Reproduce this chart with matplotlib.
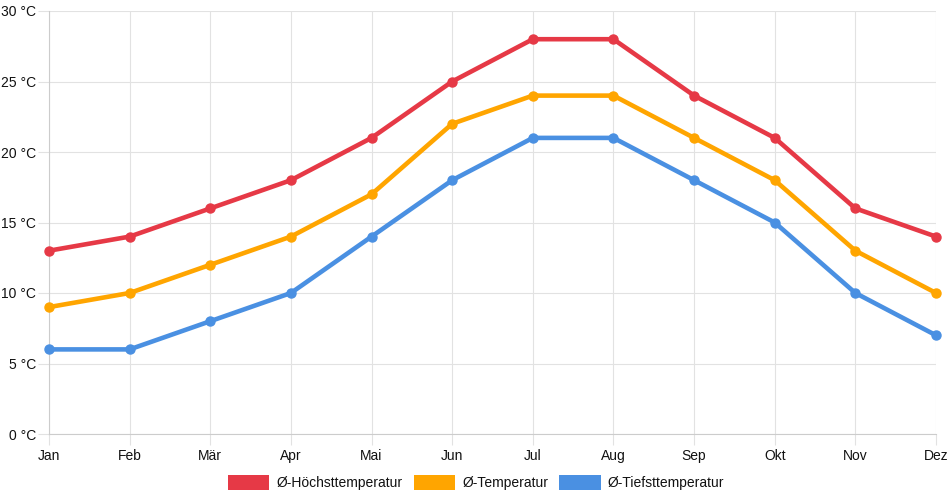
import numpy as np
import matplotlib.pyplot as plt
from matplotlib.patches import Patch

months = ["Jan", "Feb", "Mär", "Apr", "Mai", "Jun", "Jul", "Aug", "Sep", "Okt", "Nov", "Dez"]
t_max = [13, 14, 16, 18, 21, 25, 28, 28, 24, 21, 16, 14]
t_mean = [9, 10, 12, 14, 17, 22, 24, 24, 21, 18, 13, 10]
t_min = [6, 6, 8, 10, 14, 18, 21, 21, 18, 15, 10, 7]
labels = ["Ø-Höchsttemperatur", "Ø-Temperatur", "Ø-Tiefsttemperatur"]
colors = ["#e63946", "#ffa500", "#4a90e2"]

plt.rcParams['font.family'] = ['Liberation Sans', 'DejaVu Sans']

fig = plt.figure(figsize=(9.52, 5.0), dpi=100)
ax = fig.add_axes([49/952, 66/500, 887/952, 423/500])

x = np.arange(len(months))
for data, c in zip([t_max, t_mean, t_min], colors):
    ax.plot(x, data, color=c, lw=3.3, marker="o", ms=6.5, zorder=3, clip_on=False)

ax.set_xlim(0, len(months) - 1)
ax.set_ylim(0, 30)
ax.set_xticks(x)
ax.set_xticklabels(months)
ax.set_yticks(range(0, 31, 5))
ax.set_yticklabels([f"{v} °C" for v in range(0, 31, 5)])
ax.grid(True, color="#e2e2e2", lw=0.8)
ax.tick_params(axis="both", length=8, color="#e2e2e2", labelsize=10, labelcolor="#111111")
ax.tick_params(axis="y", pad=1.5)
ax.tick_params(axis="x", pad=2.5)
for s in ["top", "right"]:
    ax.spines[s].set_visible(False)
for s in ["left", "bottom"]:
    ax.spines[s].set_color("#cccccc")
    ax.spines[s].set_linewidth(0.8)

handles = [Patch(facecolor=c, edgecolor="none", label=l) for c, l in zip(colors, labels)]
fig.legend(handles=handles, loc="lower center", bbox_to_anchor=(0.5, -0.005), ncol=3,
           frameon=False, fontsize=10, labelcolor="#111111", handlelength=3.0, handleheight=1.3,
           handletextpad=0.5, columnspacing=0.8)

fig.savefig("out.png", dpi=100)
